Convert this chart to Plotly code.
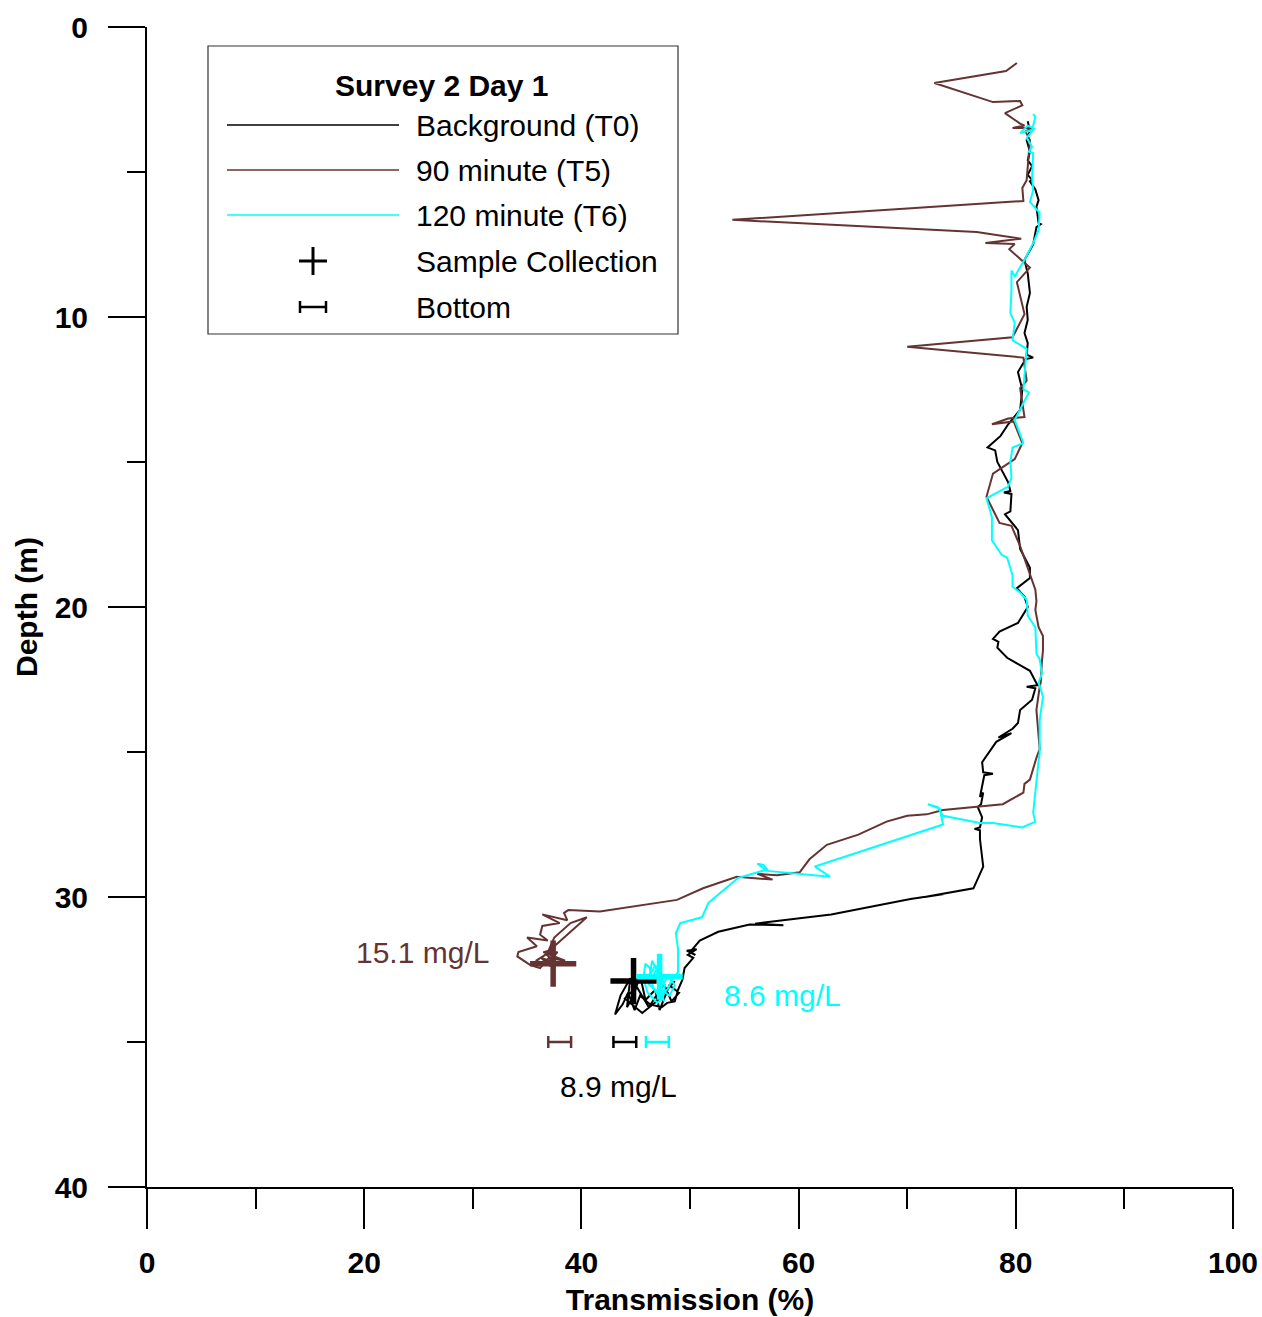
import plotly.graph_objects as go

# ---------------- data (Transmission %, Depth m) ----------------
t0_x = [81.1, 81.3, 81.0, 81.3, 81.1, 81.5, 81.1, 81.5, 81.3, 81.8, 82.1, 81.9, 82.1, 82.3, 81.9,
        81.6, 80.8, 81.1, 81.3, 81.0, 81.1, 80.8, 81.1, 81.0, 81.6, 80.9, 80.2, 80.6, 80.4, 79.3,
        78.6, 77.4, 78.1, 78.3, 79.3, 79.5, 78.9, 79.6, 79.5, 79.0, 80.2, 80.4, 81.3, 81.3, 80.1,
        80.8, 81.1, 80.2, 78.5, 77.9, 78.4, 78.3, 79.2, 81.3, 82.0, 81.0, 81.8, 81.5, 80.4, 80.2,
        79.7, 78.4, 79.6, 78.2, 76.9, 77.0, 77.9, 77.1, 76.7, 77.0, 76.8, 76.5, 76.9, 76.7, 76.2,
        76.7, 76.7, 77.0, 76.1, 74.0, 71.6, 73.4, 70.3, 63.0, 56.0, 58.6, 55.5, 54.9, 52.6, 50.9,
        50.0, 50.5, 49.7, 50.6, 49.8, 50.3, 49.5, 49.3, 48.9, 48.6, 47.9, 47.4, 46.3, 45.4, 44.9,
        44.3, 43.8, 43.1, 43.6, 44.5, 44.2, 44.8, 45.4, 45.9, 46.8, 47.2, 48.1, 49.0, 48.3, 47.6,
        46.2, 45.1, 44.0, 45.6, 46.9, 48.6]
t0_depth = [3.25, 3.6, 3.9, 4.3, 4.6, 4.8, 5.1, 5.28, 5.32, 5.6, 5.97, 6.2, 6.76, 6.8, 6.9,
            7.5, 8.03, 8.5, 9.17, 9.65, 10.1, 10.55, 10.9, 11.3, 11.4, 11.45, 11.9, 12.5, 13.2, 13.7,
            14.1, 14.5, 14.6, 15.0, 15.7, 16.0, 16.05, 16.1, 16.7, 16.8, 17.35, 18.0, 18.65, 19.0, 19.35,
            19.65, 20.0, 20.55, 20.85, 21.1, 21.2, 21.4, 21.75, 22.2, 22.7, 22.75, 22.8, 23.2, 23.55, 24.0,
            24.2, 24.5, 24.35, 24.65, 25.35, 25.7, 25.75, 25.8, 26.55, 26.4, 26.8, 26.9, 27.25, 27.6, 27.65,
            27.7, 28.0, 28.95, 29.7, 29.85, 30.0, 29.9, 30.07, 30.6, 30.92, 30.97, 30.95, 31.0, 31.2, 31.5,
            31.9, 32.0, 31.85, 31.8, 32.0, 32.1, 32.45, 32.85, 33.2, 33.6, 33.65, 33.8, 33.7, 33.4, 33.9,
            33.3, 33.7, 34.05, 33.4, 32.8, 33.8, 33.4, 32.7, 33.55, 33.2, 33.9, 33.05, 33.3, 33.6, 33.0,
            33.8, 33.1, 33.5, 34.0, 33.6, 32.9]

t5_x = [80.1, 79.1, 72.5, 77.9, 80.4, 80.6, 79.0, 80.4, 80.8, 79.7, 81.5, 80.9, 81.3, 81.1, 81.0,
        80.6, 80.7, 53.9, 76.4, 80.5, 77.2, 79.9, 79.4, 81.3, 80.1, 80.8, 79.7, 70.0, 80.7, 81.0,
        80.4, 80.8, 79.3, 77.8, 79.8, 80.6, 79.9, 77.9, 77.3, 78.5, 79.6, 80.4, 81.3, 81.8, 81.9,
        81.8, 82.1, 82.5, 82.5, 82.4, 82.3, 82.2, 81.9, 82.2, 81.9, 81.5, 81.3, 80.8, 80.7, 78.8,
        73.3, 71.8, 70.0, 68.1, 65.5, 62.6, 61.0, 60.1, 58.0, 56.2, 57.6, 54.3, 51.2, 48.8, 41.7,
        38.8, 38.4, 38.7, 36.4, 38.0, 36.4, 36.2, 36.9, 35.0, 35.9, 34.2, 34.1, 35.3, 36.2, 37.0,
        38.5, 36.5, 37.5, 35.8, 36.8, 37.8, 36.6, 40.5, 39.0, 37.5, 36.8, 37.9, 36.3, 37.2]
t5_depth = [1.24, 1.52, 1.93, 2.59, 2.55, 2.7, 2.97, 3.33, 3.4, 3.48, 3.48, 3.6, 3.9, 4.8, 5.28,
            5.55, 6.0, 6.65, 7.07, 7.3, 7.45, 7.48, 7.66, 8.3, 8.8, 9.9, 10.7, 11.03, 11.4, 12.2,
            12.45, 13.45, 13.5, 13.7, 13.6, 14.35, 14.9, 15.4, 16.2, 17.1, 17.2, 17.9, 18.85, 19.4, 19.8,
            20.1, 20.7, 21.0, 21.5, 21.9, 22.6, 22.75, 23.55, 24.9, 25.2, 25.7, 25.95, 26.1, 26.4, 26.8,
            27.0, 27.15, 27.2, 27.4, 27.85, 28.2, 28.7, 29.15, 29.25, 29.2, 29.4, 29.3, 29.7, 30.1, 30.5,
            30.45, 30.55, 30.8, 30.6, 30.9, 31.0, 31.3, 31.5, 31.4, 31.7, 31.9, 32.05, 32.35, 32.45, 32.1,
            32.2, 31.9, 31.8, 32.2, 32.3, 31.9, 32.0, 30.7, 30.9, 31.4, 32.0, 32.3, 32.1, 32.4]

t6_x = [81.6, 81.8, 81.5, 80.4, 81.1, 81.7, 81.0, 81.5, 81.2, 81.6, 81.5, 81.6, 81.3, 82.2, 82.1,
        81.6, 80.8, 79.9, 79.6, 79.6, 79.5, 79.9, 79.7, 81.0, 80.7, 81.2, 79.9, 80.7, 79.7, 79.5,
        79.6, 79.3, 77.3, 77.8, 77.8, 78.7, 79.2, 79.7, 79.7, 80.4, 81.0, 81.1, 81.8, 81.9, 82.2,
        82.4, 82.1, 82.5, 82.2, 82.2, 82.1, 81.9, 81.6, 81.8, 80.6, 77.9, 76.7, 73.3, 72.8, 71.9,
        73.0, 73.3, 61.5, 62.9, 57.1, 56.2, 56.8, 57.1, 54.4, 51.7, 51.1, 49.1, 48.7, 48.9, 48.9,
        48.3, 48.0, 47.2, 46.6, 46.3, 45.9, 45.7, 46.1, 47.0, 47.5, 47.7, 46.8, 46.3, 46.5, 47.0,
        47.4, 48.1, 48.6, 48.0, 47.1, 46.2, 46.9, 47.6]
t6_depth = [3.0, 3.1, 3.55, 3.66, 3.4, 3.5, 3.83, 4.13, 4.3, 4.35, 5.17, 5.62, 6.03, 6.41, 7.0,
            7.45, 8.03, 8.6, 8.4, 9.07, 9.86, 10.2, 10.8, 11.1, 12.5, 12.6, 13.55, 14.35, 14.5, 15.0,
            15.55, 15.85, 16.25, 16.9, 17.7, 18.2, 18.3, 18.9, 19.3, 19.5, 19.75, 20.3, 20.7, 21.6, 21.8,
            22.3, 22.6, 23.1, 23.9, 25.05, 25.3, 25.95, 27.1, 27.4, 27.6, 27.45, 27.45, 27.2, 26.9, 26.8,
            26.95, 27.5, 28.95, 29.3, 29.1, 28.85, 28.9, 29.05, 29.35, 30.2, 30.7, 30.9, 31.25, 31.8, 32.6,
            32.85, 33.15, 33.45, 33.15, 32.45, 32.3, 32.8, 33.3, 33.65, 33.5, 33.05, 32.35, 32.7, 32.2, 32.55,
            33.2, 33.4, 33.05, 32.7, 33.3, 33.0, 32.5, 33.6]

series_names = ["Background (T0)", "90 minute (T5)", "120 minute (T6)"]
series_colors = ["#000000", "#663333", "#00ffff"]

sample_x = [44.8, 37.4, 47.2]
sample_depth = [32.9, 32.3, 32.75]

bottom_x = [44.0, 38.0, 47.0]
bottom_depth = [35.0, 35.0, 35.0]
bottom_halfwidth = [1.05, 1.05, 1.05]

conc_labels = ["8.9 mg/L", "15.1 mg/L", "8.6 mg/L"]
conc_x = [43.4, 25.4, 58.5]
conc_depth = [36.55, 31.9, 33.4]

legend_title = "Survey 2 Day 1"
legend_labels = series_names + ["Sample Collection", "Bottom"]

# ---------------- figure ----------------
FONT = "Liberation Sans, Arial, sans-serif"
W, H = 1262, 1317
ML, MR, MT, MB = 147, 29, 27, 130
PW, PH = W - ML - MR, H - MT - MB

def px(xp):
    return (xp - ML) / PW

def py(yp):
    return 1 - (yp - MT) / PH

fig = go.Figure()
series = [(t0_x, t0_depth), (t5_x, t5_depth), (t6_x, t6_depth)]
for (xs, ys), name, col in zip(series, series_names, series_colors):
    fig.add_trace(go.Scatter(x=xs, y=ys, mode="lines", name=name,
                             line=dict(color=col, width=2), showlegend=False))

for i in range(3):
    fig.add_trace(go.Scatter(
        x=[sample_x[i]], y=[sample_depth[i]], mode="markers", showlegend=False,
        name="Sample Collection",
        marker=dict(symbol="cross-thin", size=33,
                    line=dict(color=series_colors[i], width=5.5))))
    fig.add_trace(go.Scatter(
        x=[bottom_x[i]], y=[bottom_depth[i]], mode="markers", showlegend=False,
        name="Bottom",
        marker=dict(size=4, color="rgba(0,0,0,0)"),
        error_x=dict(type="data", array=[bottom_halfwidth[i]], symmetric=True,
                     color=series_colors[i], thickness=2.5, width=6)))

label_colors = ["#000000", "#663333", "#00ffff"]
for t, xx, yy, c in zip(conc_labels, conc_x, conc_depth, label_colors):
    fig.add_annotation(x=xx, y=yy, text=t, showarrow=False, xref="x", yref="y",
                       font=dict(family=FONT, size=30, color=c))

# ---------------- legend (drawn as layout shapes/annotations) ----------------
shapes = []
shapes.append(dict(type="rect", xref="paper", yref="paper",
                   x0=px(208), x1=px(678), y0=py(334), y1=py(46),
                   line=dict(color="#333333", width=1.2), fillcolor="white", layer="below"))
row_y = [125, 170, 215, 261, 307]
for yy, col in zip(row_y[:3], series_colors):
    shapes.append(dict(type="line", xref="paper", yref="paper",
                       x0=px(227), x1=px(399), y0=py(yy), y1=py(yy),
                       line=dict(color=col, width=1.6)))
# cross
cx, cy = 313, row_y[3]
shapes.append(dict(type="line", xref="paper", yref="paper", x0=px(cx - 14), x1=px(cx + 14),
                   y0=py(cy), y1=py(cy), line=dict(color="black", width=3)))
shapes.append(dict(type="line", xref="paper", yref="paper", x0=px(cx), x1=px(cx),
                   y0=py(cy - 14), y1=py(cy + 14), line=dict(color="black", width=3)))
# bottom H
bx, by = 313, row_y[4]
shapes.append(dict(type="line", xref="paper", yref="paper", x0=px(bx - 13), x1=px(bx + 13),
                   y0=py(by), y1=py(by), line=dict(color="black", width=2.5)))
for ex in (bx - 13, bx + 13):
    shapes.append(dict(type="line", xref="paper", yref="paper", x0=px(ex), x1=px(ex),
                       y0=py(by - 6), y1=py(by + 6), line=dict(color="black", width=2.5)))

fig.add_annotation(x=px(442), y=py(85), xref="paper", yref="paper", text="<b>" + legend_title + "</b>",
                   showarrow=False, xanchor="center", yanchor="middle",
                   font=dict(family=FONT, size=30, color="black"))
for yy, lab in zip(row_y, legend_labels):
    fig.add_annotation(x=px(414), y=py(yy), xref="paper", yref="paper", text=lab,
                       showarrow=False, xanchor="left", yanchor="middle",
                       font=dict(family=FONT, size=30, color="black"))

fig.update_layout(
    width=W, height=H, margin=dict(l=ML, r=MR, t=MT, b=MB, autoexpand=False),
    paper_bgcolor="white", plot_bgcolor="white", shapes=shapes, showlegend=False,
    font=dict(family=FONT, color="black"),
)
fig.update_xaxes(
    range=[0, 100], tickvals=[0, 20, 40, 60, 80, 100], ticks="outside", ticklen=40, tickwidth=1.5,
    tickcolor="black", showline=True, linewidth=2, linecolor="black", showgrid=False, zeroline=False,
    minor=dict(tickvals=[10, 30, 50, 70, 90], ticks="outside", ticklen=20, tickwidth=1.5, tickcolor="black"),
    tickfont=dict(family=FONT, size=30, weight="bold"), ticklabelstandoff=8,
    automargin=False, ticklabeloverflow="allow",
    title=dict(text="<b>Transmission (%)</b>", font=dict(family=FONT, size=30), standoff=11),
)
fig.update_yaxes(
    range=[40, 0], tickvals=[0, 10, 20, 30, 40], ticks="outside", ticklen=37, tickwidth=1.5,
    tickcolor="black", showline=True, linewidth=2, linecolor="black", showgrid=False, zeroline=False,
    minor=dict(tickvals=[5, 15, 25, 35], ticks="outside", ticklen=18, tickwidth=1.5, tickcolor="black"),
    tickfont=dict(family=FONT, size=30, weight="bold"), ticklabelstandoff=14,
    automargin=False, ticklabeloverflow="allow",
    title=dict(text="<b>Depth (m)</b>", font=dict(family=FONT, size=30), standoff=8),
)

fig.write_html("out.html")
